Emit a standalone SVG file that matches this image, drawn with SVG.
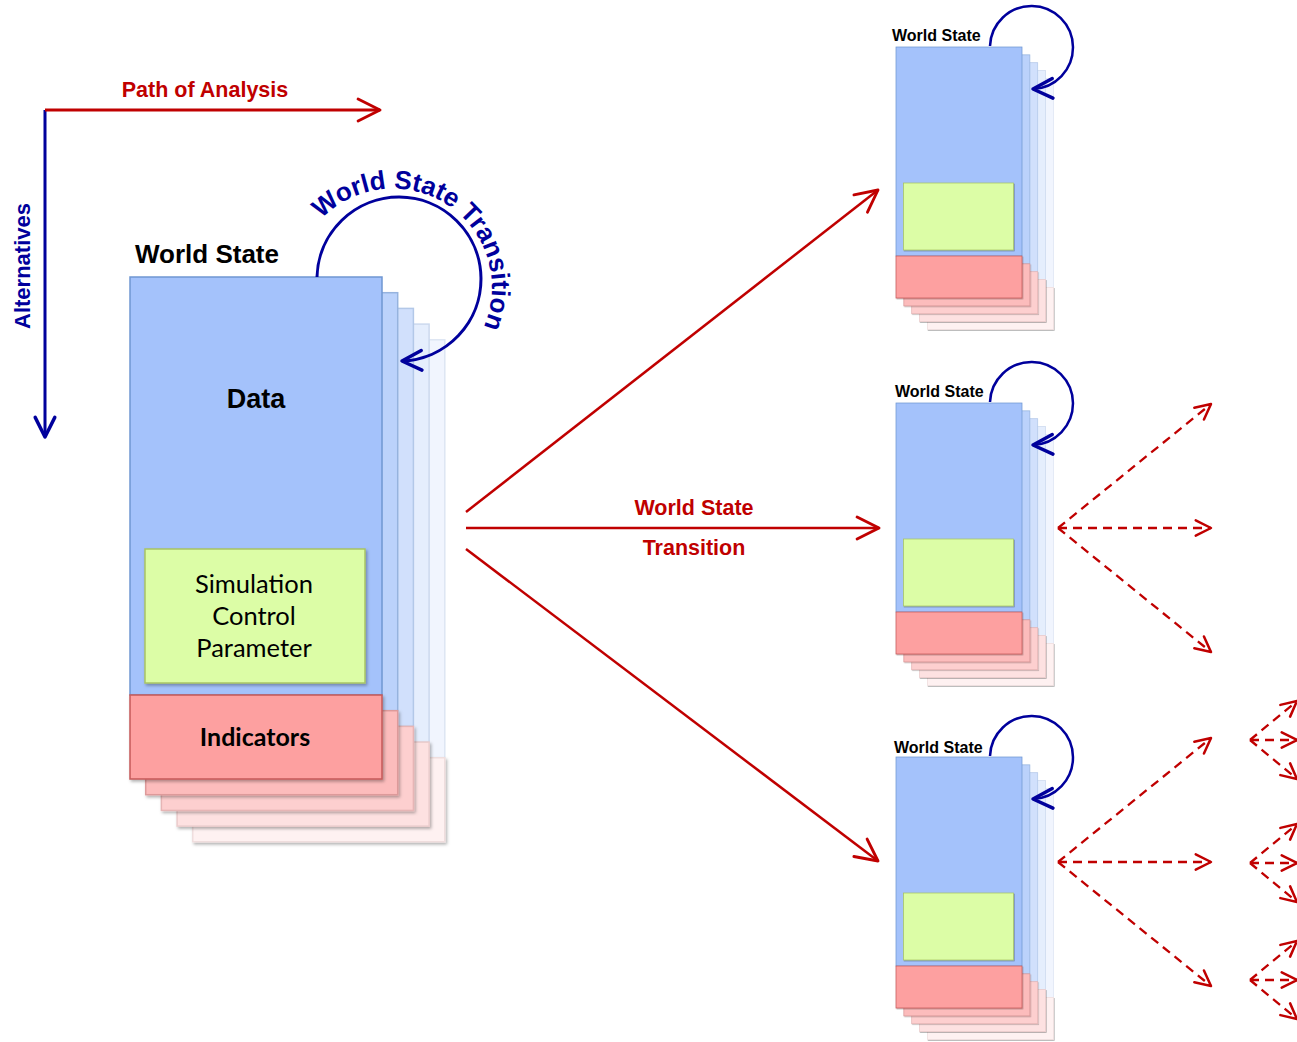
<svg xmlns="http://www.w3.org/2000/svg" xmlns:xlink="http://www.w3.org/1999/xlink" width="1297" height="1042" viewBox="0 0 1297 1042">
<style>
.b0{fill:#a4c2fb;stroke:#6f97d2;stroke-width:1.5}
.b1{fill:#bbd2fb;stroke:#96b3de;stroke-width:1.5}
.b2{fill:#d1e0fc;stroke:#b3c8e8;stroke-width:1.5}
.b3{fill:#e5eefd;stroke:#ccd9ee;stroke-width:1.5}
.b4{fill:#f1f5fe;stroke:#dde5f3;stroke-width:1.5}
.p0{fill:#fda0a0;stroke:#c55a5a;stroke-width:1.5}
.p1{fill:#fcbcbc;stroke:#dd9a9a;stroke-width:1.5}
.p2{fill:#fdcfcf;stroke:#e6b5b5;stroke-width:1.5}
.p3{fill:#fde1e1;stroke:#eccccc;stroke-width:1.5}
.p4{fill:#fef1f1;stroke:#f0dede;stroke-width:1.5}
.g0{fill:#dcfda6;stroke:#a8c464;stroke-width:1.5}
.sh{filter:url(#shadow)}
.red{stroke:#c00000;stroke-width:2.5;fill:none}
.dash{stroke:#c00000;stroke-width:2.3;fill:none;stroke-dasharray:9 6}
.navy{stroke:#00009c;fill:none}
.hb{font-family:"Liberation Sans",Arial,sans-serif;font-weight:bold}
.cal{font-family:Lato,"Open Sans",sans-serif}
</style>
<defs>
<filter id="shadow" x="-10%" y="-10%" width="130%" height="130%">
<feDropShadow dx="1.5" dy="2" stdDeviation="1.5" flood-color="#000" flood-opacity="0.3"/>
</filter>
<marker id="ahRed" markerUnits="userSpaceOnUse" markerWidth="30" markerHeight="30" viewBox="-22 -12 26 24" refX="0" refY="0" orient="auto">
<path d="M-19,-9.5 L0,0 L-19,9.5" fill="none" stroke="#c00000" stroke-width="2.5" stroke-linecap="round" stroke-linejoin="round"/>
</marker>
<marker id="ahDash" markerUnits="userSpaceOnUse" markerWidth="24" markerHeight="24" viewBox="-18 -10 22 20" refX="0" refY="0" orient="auto">
<path d="M-14,-7 L0,0 L-14,7" fill="none" stroke="#c00000" stroke-width="2.3" stroke-linecap="round" stroke-linejoin="round"/>
</marker>
<marker id="ahBlue" markerUnits="userSpaceOnUse" markerWidth="30" markerHeight="30" viewBox="-22 -12 26 24" refX="0" refY="0" orient="auto">
<path d="M-17,-8.5 L0,0 L-17,8.5" fill="none" stroke="#00009c" stroke-width="3" stroke-linecap="round" stroke-linejoin="round"/>
</marker>
<g id="stack">
<rect class="b4" x="62.8" y="62.8" width="252" height="418"/>
<rect class="p4 sh" x="62.8" y="480.8" width="252" height="84"/>
<rect class="b3" x="47.1" y="47.1" width="252" height="418"/>
<rect class="p3 sh" x="47.1" y="465.1" width="252" height="84"/>
<rect class="b2" x="31.4" y="31.4" width="252" height="418"/>
<rect class="p2 sh" x="31.4" y="449.4" width="252" height="84"/>
<rect class="b1" x="15.7" y="15.7" width="252" height="418"/>
<rect class="p1 sh" x="15.7" y="433.7" width="252" height="84"/>
<rect class="b0" x="0" y="0" width="252" height="418"/>
<rect class="g0 sh" x="15" y="272" width="220" height="134"/>
<rect class="p0 sh" x="0" y="418" width="252" height="84"/>
</g>
<path id="arcTextPath" d="M321.5,219 A99,99 0 0 1 486,321.2"/>
</defs>

<g id="axes">
<line class="navy" x1="45" y1="110" x2="45" y2="437" stroke-width="3" marker-end="url(#ahBlue)"/>
<line x1="45" y1="110" x2="380" y2="110" stroke="#c00000" stroke-width="3" fill="none" marker-end="url(#ahRed)"/>
<text class="hb" x="205" y="97" font-size="21.5" fill="#c00000" text-anchor="middle">Path of Analysis</text>
<text class="hb" transform="translate(30,266) rotate(-90)" font-size="22" fill="#00009c" text-anchor="middle">Alternatives</text>
</g>

<g id="main-state">
<use xlink:href="#stack" href="#stack" transform="translate(130,277)"/>
<text class="hb" x="135" y="263" font-size="26" fill="#000">World State</text>
<text class="hb" x="256" y="408" font-size="27" fill="#000" text-anchor="middle">Data</text>
<text class="cal" x="254" y="593" font-size="25.5" fill="#000" text-anchor="middle">Simulation</text>
<text class="cal" x="254" y="625" font-size="25.5" fill="#000" text-anchor="middle">Control</text>
<text class="cal" x="254" y="657" font-size="25.5" fill="#000" text-anchor="middle">Parameter</text>
<text class="cal" x="255" y="746" font-size="25" font-weight="bold" fill="#000" text-anchor="middle">Indicators</text>
</g>

<g id="state-top">
<use xlink:href="#stack" href="#stack" transform="translate(896,47) scale(0.5)"/>
<text class="hb" x="892" y="41" font-size="16" fill="#000">World State</text>
</g>
<g id="state-mid">
<use xlink:href="#stack" href="#stack" transform="translate(896,403) scale(0.5)"/>
<text class="hb" x="895" y="397" font-size="16" fill="#000">World State</text>
</g>
<g id="state-bot">
<use xlink:href="#stack" href="#stack" transform="translate(896,757) scale(0.5)"/>
<text class="hb" x="894" y="753" font-size="16" fill="#000">World State</text>
</g>

<g id="connectors">
<path class="navy" stroke-width="3" d="M317,277 A82,82 0 1 1 402,361" marker-end="url(#ahBlue)"/>
<text class="hb" font-size="26" fill="#00009c"><textPath href="#arcTextPath" xlink:href="#arcTextPath" startOffset="0">World State Transition</textPath></text>
<path class="navy" stroke-width="2.5" d="M990,46 A41.5,41.5 0 1 1 1033,89" marker-end="url(#ahBlue)"/>
<path class="navy" stroke-width="2.5" d="M990,402 A41.5,41.5 0 1 1 1033,445" marker-end="url(#ahBlue)"/>
<path class="navy" stroke-width="2.5" d="M990,756 A41.5,41.5 0 1 1 1033,799" marker-end="url(#ahBlue)"/>

<line class="red" x1="466" y1="512" x2="878" y2="190" marker-end="url(#ahRed)"/>
<line class="red" x1="466" y1="528" x2="879" y2="528" marker-end="url(#ahRed)"/>
<line class="red" x1="466" y1="549" x2="878" y2="861" marker-end="url(#ahRed)"/>
<text class="hb" x="694" y="515" font-size="21.5" fill="#c00000" text-anchor="middle">World State</text>
<text class="hb" x="694" y="555" font-size="21.5" fill="#c00000" text-anchor="middle">Transition</text>

<line class="dash" x1="1058" y1="528" x2="1211" y2="404" marker-end="url(#ahDash)"/>
<line class="dash" x1="1058" y1="528" x2="1211" y2="528" marker-end="url(#ahDash)"/>
<line class="dash" x1="1058" y1="528" x2="1211" y2="652" marker-end="url(#ahDash)"/>
<line class="dash" x1="1058" y1="862" x2="1211" y2="738" marker-end="url(#ahDash)"/>
<line class="dash" x1="1058" y1="862" x2="1211" y2="862" marker-end="url(#ahDash)"/>
<line class="dash" x1="1058" y1="862" x2="1211" y2="986" marker-end="url(#ahDash)"/>

<line class="dash" x1="1250" y1="740" x2="1297" y2="701" marker-end="url(#ahDash)"/>
<line class="dash" x1="1250" y1="740" x2="1297" y2="740" marker-end="url(#ahDash)"/>
<line class="dash" x1="1250" y1="740" x2="1297" y2="779" marker-end="url(#ahDash)"/>
<line class="dash" x1="1250" y1="863" x2="1297" y2="824" marker-end="url(#ahDash)"/>
<line class="dash" x1="1250" y1="863" x2="1297" y2="863" marker-end="url(#ahDash)"/>
<line class="dash" x1="1250" y1="863" x2="1297" y2="902" marker-end="url(#ahDash)"/>
<line class="dash" x1="1250" y1="980" x2="1297" y2="941" marker-end="url(#ahDash)"/>
<line class="dash" x1="1250" y1="980" x2="1297" y2="980" marker-end="url(#ahDash)"/>
<line class="dash" x1="1250" y1="980" x2="1297" y2="1019" marker-end="url(#ahDash)"/>
</g>
</svg>
